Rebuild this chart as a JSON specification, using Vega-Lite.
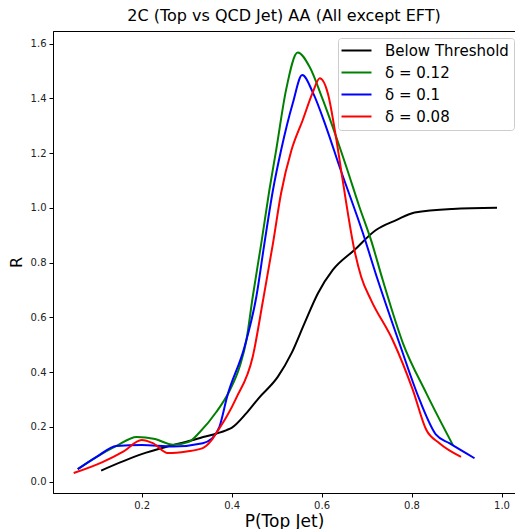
{
  "$schema": "https://vega.github.io/schema/vega-lite/v6.json",
  "width": 462,
  "height": 462,
  "autosize": {"type": "none"},
  "padding": {"left": 53, "top": 31, "right": 0, "bottom": 36},
  "config": {
    "font": "DejaVu Sans",
    "view": {"stroke": "black", "strokeWidth": 1},
    "axis": {
      "grid": false,
      "domainColor": "black",
      "tickColor": "black",
      "labelColor": "#222222",
      "labelFontSize": 10,
      "tickSize": 4,
      "labelPadding": 3,
      "titleFontWeight": "normal",
      "titleFontSize": 16,
      "titleColor": "black"
    }
  },
  "title": {
    "text": "2C (Top vs QCD Jet) AA (All except EFT)",
    "fontSize": 16,
    "fontWeight": "normal",
    "color": "black",
    "anchor": "middle",
    "offset": 7
  },
  "data": {
    "values": [
      {"s": "Below Threshold", "x": 0.11, "y": 0.04},
      {"s": "Below Threshold", "x": 0.2, "y": 0.1},
      {"s": "Below Threshold", "x": 0.27, "y": 0.133},
      {"s": "Below Threshold", "x": 0.33, "y": 0.159},
      {"s": "Below Threshold", "x": 0.389, "y": 0.188},
      {"s": "Below Threshold", "x": 0.4, "y": 0.196},
      {"s": "Below Threshold", "x": 0.433, "y": 0.25},
      {"s": "Below Threshold", "x": 0.46, "y": 0.304},
      {"s": "Below Threshold", "x": 0.503, "y": 0.383},
      {"s": "Below Threshold", "x": 0.533, "y": 0.468},
      {"s": "Below Threshold", "x": 0.562, "y": 0.578},
      {"s": "Below Threshold", "x": 0.592, "y": 0.688},
      {"s": "Below Threshold", "x": 0.625, "y": 0.773},
      {"s": "Below Threshold", "x": 0.673, "y": 0.846},
      {"s": "Below Threshold", "x": 0.721, "y": 0.919},
      {"s": "Below Threshold", "x": 0.766, "y": 0.955},
      {"s": "Below Threshold", "x": 0.807, "y": 0.983},
      {"s": "Below Threshold", "x": 0.891, "y": 0.996},
      {"s": "Below Threshold", "x": 0.99, "y": 1.0},

      {"s": "δ = 0.12", "x": 0.058, "y": 0.045},
      {"s": "δ = 0.12", "x": 0.1, "y": 0.09},
      {"s": "δ = 0.12", "x": 0.144, "y": 0.13},
      {"s": "δ = 0.12", "x": 0.189, "y": 0.163},
      {"s": "δ = 0.12", "x": 0.23, "y": 0.155},
      {"s": "δ = 0.12", "x": 0.27, "y": 0.134},
      {"s": "δ = 0.12", "x": 0.305, "y": 0.145},
      {"s": "δ = 0.12", "x": 0.329, "y": 0.18},
      {"s": "δ = 0.12", "x": 0.366, "y": 0.254},
      {"s": "δ = 0.12", "x": 0.395, "y": 0.33},
      {"s": "δ = 0.12", "x": 0.418, "y": 0.42},
      {"s": "δ = 0.12", "x": 0.433, "y": 0.517},
      {"s": "δ = 0.12", "x": 0.447, "y": 0.675},
      {"s": "δ = 0.12", "x": 0.466, "y": 0.87},
      {"s": "δ = 0.12", "x": 0.484, "y": 1.065},
      {"s": "δ = 0.12", "x": 0.499, "y": 1.21},
      {"s": "δ = 0.12", "x": 0.521, "y": 1.43},
      {"s": "δ = 0.12", "x": 0.547, "y": 1.567},
      {"s": "δ = 0.12", "x": 0.573, "y": 1.516},
      {"s": "δ = 0.12", "x": 0.603, "y": 1.394},
      {"s": "δ = 0.12", "x": 0.64, "y": 1.223},
      {"s": "δ = 0.12", "x": 0.655, "y": 1.15},
      {"s": "δ = 0.12", "x": 0.684, "y": 1.004},
      {"s": "δ = 0.12", "x": 0.71, "y": 0.882},
      {"s": "δ = 0.12", "x": 0.736, "y": 0.736},
      {"s": "δ = 0.12", "x": 0.781, "y": 0.505},
      {"s": "δ = 0.12", "x": 0.833, "y": 0.322},
      {"s": "δ = 0.12", "x": 0.892, "y": 0.133},

      {"s": "δ = 0.1", "x": 0.058, "y": 0.045},
      {"s": "δ = 0.1", "x": 0.1, "y": 0.09},
      {"s": "δ = 0.1", "x": 0.144, "y": 0.13},
      {"s": "δ = 0.1", "x": 0.2, "y": 0.133},
      {"s": "δ = 0.1", "x": 0.27, "y": 0.128},
      {"s": "δ = 0.1", "x": 0.336, "y": 0.14},
      {"s": "δ = 0.1", "x": 0.355, "y": 0.155},
      {"s": "δ = 0.1", "x": 0.373, "y": 0.2},
      {"s": "δ = 0.1", "x": 0.39, "y": 0.31},
      {"s": "δ = 0.1", "x": 0.429, "y": 0.493},
      {"s": "δ = 0.1", "x": 0.455, "y": 0.675},
      {"s": "δ = 0.1", "x": 0.473, "y": 0.87},
      {"s": "δ = 0.1", "x": 0.492, "y": 1.065},
      {"s": "δ = 0.1", "x": 0.51, "y": 1.21},
      {"s": "δ = 0.1", "x": 0.536, "y": 1.382},
      {"s": "δ = 0.1", "x": 0.557, "y": 1.485},
      {"s": "δ = 0.1", "x": 0.581, "y": 1.42},
      {"s": "δ = 0.1", "x": 0.61, "y": 1.296},
      {"s": "δ = 0.1", "x": 0.64, "y": 1.15},
      {"s": "δ = 0.1", "x": 0.692, "y": 0.907},
      {"s": "δ = 0.1", "x": 0.725, "y": 0.736},
      {"s": "δ = 0.1", "x": 0.773, "y": 0.505},
      {"s": "δ = 0.1", "x": 0.818, "y": 0.298},
      {"s": "δ = 0.1", "x": 0.855, "y": 0.17},
      {"s": "δ = 0.1", "x": 0.884, "y": 0.14},
      {"s": "δ = 0.1", "x": 0.94, "y": 0.085},

      {"s": "δ = 0.08", "x": 0.049, "y": 0.031},
      {"s": "δ = 0.08", "x": 0.113, "y": 0.071},
      {"s": "δ = 0.08", "x": 0.16, "y": 0.11},
      {"s": "δ = 0.08", "x": 0.2, "y": 0.152},
      {"s": "δ = 0.08", "x": 0.225, "y": 0.14},
      {"s": "δ = 0.08", "x": 0.258, "y": 0.104},
      {"s": "δ = 0.08", "x": 0.3, "y": 0.11},
      {"s": "δ = 0.08", "x": 0.336, "y": 0.122},
      {"s": "δ = 0.08", "x": 0.355, "y": 0.15},
      {"s": "δ = 0.08", "x": 0.366, "y": 0.177},
      {"s": "δ = 0.08", "x": 0.39, "y": 0.24},
      {"s": "δ = 0.08", "x": 0.41, "y": 0.304},
      {"s": "δ = 0.08", "x": 0.447, "y": 0.456},
      {"s": "δ = 0.08", "x": 0.47, "y": 0.663},
      {"s": "δ = 0.08", "x": 0.492, "y": 0.87},
      {"s": "δ = 0.08", "x": 0.51, "y": 1.053},
      {"s": "δ = 0.08", "x": 0.533, "y": 1.21},
      {"s": "δ = 0.08", "x": 0.558, "y": 1.32},
      {"s": "δ = 0.08", "x": 0.58, "y": 1.42},
      {"s": "δ = 0.08", "x": 0.596, "y": 1.473},
      {"s": "δ = 0.08", "x": 0.614, "y": 1.418},
      {"s": "δ = 0.08", "x": 0.633, "y": 1.248},
      {"s": "δ = 0.08", "x": 0.647, "y": 1.1},
      {"s": "δ = 0.08", "x": 0.673, "y": 0.846},
      {"s": "δ = 0.08", "x": 0.688, "y": 0.748},
      {"s": "δ = 0.08", "x": 0.71, "y": 0.663},
      {"s": "δ = 0.08", "x": 0.758, "y": 0.517},
      {"s": "δ = 0.08", "x": 0.803, "y": 0.334},
      {"s": "δ = 0.08", "x": 0.833, "y": 0.188},
      {"s": "δ = 0.08", "x": 0.862, "y": 0.14},
      {"s": "δ = 0.08", "x": 0.91, "y": 0.09}
    ]
  },
  "mark": {"type": "line", "interpolate": "monotone", "strokeWidth": 2, "clip": true},
  "encoding": {
    "x": {
      "field": "x",
      "type": "quantitative",
      "scale": {"domain": [0.003, 1.03], "nice": false, "zero": false},
      "axis": {"title": "P(Top Jet)", "values": [0.2, 0.4, 0.6, 0.8, 1.0], "format": ".1f", "titleFontSize": 17, "titlePadding": 3}
    },
    "y": {
      "field": "y",
      "type": "quantitative",
      "scale": {"domain": [-0.042, 1.646], "nice": false, "zero": false},
      "axis": {"title": "R", "values": [0, 0.2, 0.4, 0.6, 0.8, 1.0, 1.2, 1.4, 1.6], "format": ".1f", "titlePadding": 6}
    },
    "color": {
      "field": "s",
      "type": "nominal",
      "sort": null,
      "scale": {
        "domain": ["Below Threshold", "δ = 0.12", "δ = 0.1", "δ = 0.08"],
        "range": ["#000000", "#008000", "#0000ff", "#ff0000"]
      },
      "legend": {
        "title": null,
        "orient": "none",
        "legendX": 285,
        "legendY": 7,
        "fillColor": "white",
        "strokeColor": "#cccccc",
        "cornerRadius": 3,
        "padding": 5,
        "symbolType": "M-3,0H3",
        "symbolSize": 100,
        "symbolOffset": 6,
        "symbolStrokeWidth": 2,
        "labelFontSize": 15,
        "labelColor": "black",
        "labelOffset": 21,
        "rowPadding": 6,
        "labelLimit": 300
      }
    }
  }
}
